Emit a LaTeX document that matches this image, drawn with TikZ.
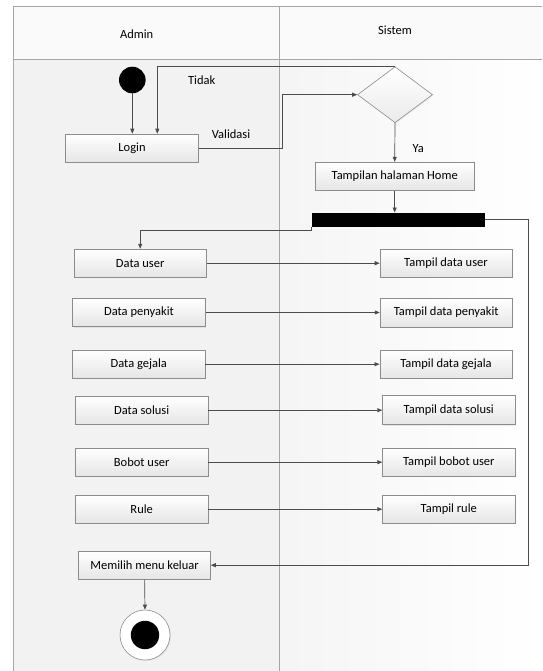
\documentclass[tikz,border=0pt]{standalone}
\usepackage{fontspec}
\setmainfont{Carlito}
\usetikzlibrary{shapes.geometric,arrows.meta,shadows}
\begin{document}
\begin{tikzpicture}[x=1pt,y=-1pt,
  lane/.style={draw=black!35,line width=0.9pt},
  actbox/.style={draw=black!45,line width=0.6pt,top color=white,bottom color=black!10,
    minimum height=28.3pt,inner sep=0pt,font=\fontsize{12.5}{14}\selectfont,
    drop shadow={shadow xshift=1pt,shadow yshift=-1pt,opacity=0.15}},
  arr/.style={draw=black!70,line width=0.7pt,-{Triangle[length=5pt,width=4pt]}},
  conn/.style={draw=black!70,line width=0.7pt},
  lbl/.style={font=\fontsize{12.5}{14}\selectfont,inner sep=0pt},
]
\useasboundingbox (0,0) rectangle (542,671);
% lanes background
\fill[black!5] (13,59.3) rectangle (279,671);
\shade[left color=black!4,right color=white] (279,59.3) rectangle (542,671);
\fill[black!2] (13,6) rectangle (542,59.3);
\draw[lane] (542,6) -- (13,6) -- (13,671);
\draw[lane] (13,59.3) -- (542,59.3);
\draw[lane] (279,6) -- (279,671);
\node[lbl] (hadmin) at (136.7,34.3) {Admin};
\node[lbl] (hsistem) at (395,30.7) {Sistem};

% nodes
\node[circle,fill=black,minimum size=26.6pt,inner sep=0pt] (start) at (132.3,80) {};
\node[actbox,minimum width=132.6pt] (login) at (132,148.2) {Login};
\node[diamond,draw=black!45,line width=0.6pt,top color=white,bottom color=black!8,
  minimum width=75pt,minimum height=56pt,inner sep=0pt,
  drop shadow={shadow xshift=1pt,shadow yshift=-1pt,opacity=0.12}] (dec) at (395,94.7) {};
\node[actbox,minimum width=159.3pt] (home) at (394.7,176.3) {Tampilan halaman Home};
\node[fill=black,minimum width=173.3pt,minimum height=14pt,inner sep=0pt] (bar) at (398.4,219.7) {};

\node[actbox,minimum width=132.4pt] (du) at (140.2,263.2) {Data user};
\node[actbox,minimum width=132pt] (tdu) at (446,263.2) {Tampil data user};
\node[actbox,minimum width=132.7pt] (dp) at (139,312.5) {Data penyakit};
\node[actbox,minimum width=132.3pt,minimum height=29pt] (tdp) at (446.2,312.5) {Tampil data penyakit};
\node[actbox,minimum width=132.4pt] (dg) at (138.8,364.2) {Data gejala};
\node[actbox,minimum width=132.3pt] (tdg) at (446,364.2) {Tampil data gejala};
\node[actbox,minimum width=132.6pt] (ds) at (141.7,410.2) {Data solusi};
\node[actbox,minimum width=132.4pt,minimum height=29pt] (tds) at (448.8,410.2) {Tampil data solusi};
\node[actbox,minimum width=132.6pt] (bu) at (141.7,462.2) {Bobot user};
\node[actbox,minimum width=132.4pt] (tbu) at (448.8,462.2) {Tampil bobot user};
\node[actbox,minimum width=132.6pt] (ru) at (141.7,509.2) {Rule};
\node[actbox,minimum width=132.4pt] (tru) at (448.8,509.2) {Tampil rule};
\node[actbox,minimum width=131.7pt] (mm) at (144.6,565.2) {Memilih menu keluar};
\node[circle,draw=black!45,line width=0.6pt,fill=white,minimum size=50pt,inner sep=0pt,
  drop shadow={shadow xshift=1pt,shadow yshift=-1pt,opacity=0.12}] (endc) at (145,635) {};
\node[circle,fill=black,minimum size=28.4pt,inner sep=0pt] (endd) at (145,635) {};

% helper coordinates
\coordinate (ct) at (157.3,66.7);
\coordinate (cv) at (282.3,94.7);
\coordinate (cr) at (528.3,219.7);

% connectors
\draw[arr] (start) -- (start |- login.north);
\draw[arr] (dec.north) -| (ct |- login.north);
\draw[arr] (login.east) -| (cv) -- (dec.west);
\draw[arr] (dec.south) -- (home.north);
\draw[arr] (home.south) -- (home.south |- bar.north);
\draw[arr] (bar.south west) -- ++(0,3) -| (du.north);
\draw[arr] (bar.east) -| (cr |- mm.east) -- (mm.east);
\draw[arr] (du.east) -- (tdu.west);
\draw[arr] (dp.east) -- (tdp.west);
\draw[arr] (dg.east) -- (tdg.west);
\draw[arr] (ds.east) -- (tds.west);
\draw[arr] (bu.east) -- (tbu.west);
\draw[arr] (ru.east) -- (tru.west);
\draw[arr] (mm.south) -- (endc.north);

% labels
\node[lbl] (ltidak) at (201.7,80.7) {Tidak};
\node[lbl] (lvalid) at (231,134.3) {Validasi};
\node[lbl] (lya) at (418.3,148.3) {Ya};
\end{tikzpicture}
\end{document}
